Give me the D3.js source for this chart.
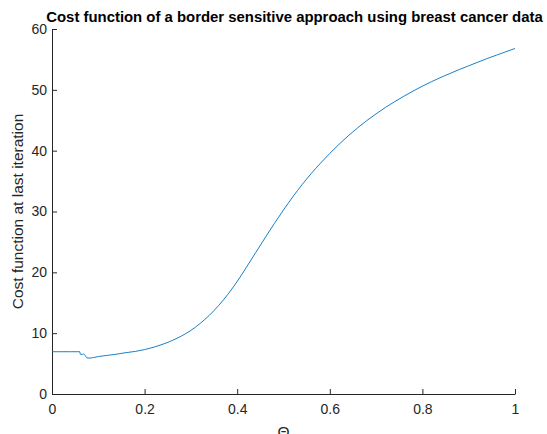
<!DOCTYPE html>
<html><head><meta charset="utf-8">
<script src="https://cdn.jsdelivr.net/npm/d3@7"></script>
<style>body{margin:0;background:#fff}svg{display:block}text{font-family:"Liberation Sans",Arial,sans-serif}</style>
</head><body>
<script>
const theta = [0,0.02,0.04,0.06,0.061,0.066,0.068,0.072,0.075,0.08,0.09,0.10,0.12,0.14,0.16,0.18,0.20,0.22,0.24,0.26,0.28,0.30,0.32,0.34,0.36,0.38,0.40,0.42,0.44,0.46,0.48,0.50,0.52,0.54,0.56,0.58,0.60,0.62,0.64,0.66,0.68,0.70,0.72,0.74,0.76,0.78,0.80,0.82,0.84,0.86,0.88,0.90,0.92,0.94,0.96,0.98,1.0];
const cost = [6.95,6.95,6.95,6.95,6.55,6.5,6.6,6.3,5.95,5.9,6.0,6.15,6.35,6.55,6.8,7.0,7.3,7.7,8.2,8.8,9.55,10.45,11.6,12.95,14.55,16.4,18.5,20.85,23.25,25.65,28.0,30.25,32.4,34.4,36.25,37.95,39.55,41.05,42.45,43.75,44.95,46.05,47.1,48.05,48.95,49.8,50.6,51.35,52.05,52.7,53.35,53.95,54.55,55.15,55.7,56.25,56.8];
const xTicks = [0,0.2,0.4,0.6,0.8,1];
const yTicks = [0,10,20,30,40,50,60];
const title = "Cost function of a border sensitive approach using breast cancer data";
const xLabel = "Θ";
const yLabel = "Cost function at last iteration";

const W=547,H=434, L=52,R=515,T=29,B=394;
const svg=d3.select("body").append("svg").attr("width",W).attr("height",H);
const x=d3.scaleLinear().domain([0,1]).range([L,R]);
const y=d3.scaleLinear().domain([0,60]).range([B,T]);
const axc="#262626";

const xa=svg.append("g").attr("transform",`translate(0,${B})`)
  .call(d3.axisBottom(x).tickValues(xTicks).tickSizeInner(-5).tickSizeOuter(0).tickPadding(10).tickFormat(d3.format("")));
const ya=svg.append("g").attr("transform",`translate(${L},0)`)
  .call(d3.axisLeft(y).tickValues(yTicks).tickSizeInner(-5).tickSizeOuter(0).tickPadding(5));
[xa,ya].forEach(g=>{
  g.select(".domain").attr("stroke",axc).attr("stroke-width",1);
  g.selectAll(".tick line").attr("stroke",axc);
  g.selectAll(".tick text").attr("fill",axc).attr("font-size",14).attr("font-family","'Liberation Sans',Arial,sans-serif");
});

const data=theta.map((t,i)=>[t,cost[i]]);
svg.append("path").datum(data)
  .attr("fill","none").attr("stroke","#0072BD").attr("stroke-width",0.9)
  .attr("d",d3.line().x(d=>x(d[0])).y(d=>y(d[1])).curve(d3.curveMonotoneX));

svg.append("text").attr("x",(L+R)/2+11).attr("y",22).attr("text-anchor","middle")
  .attr("font-size",14.9).attr("font-weight","bold").attr("fill","#000").text(title);
svg.append("text").attr("x",(L+R)/2).attr("y",437).attr("text-anchor","middle")
  .attr("font-size",15.5).attr("fill",axc).text(xLabel);
svg.append("text").attr("transform",`translate(23,${(T+B)/2}) rotate(-90)`).attr("text-anchor","middle")
  .attr("font-size",15.5).attr("fill",axc).text(yLabel);
</script>
</body></html>
